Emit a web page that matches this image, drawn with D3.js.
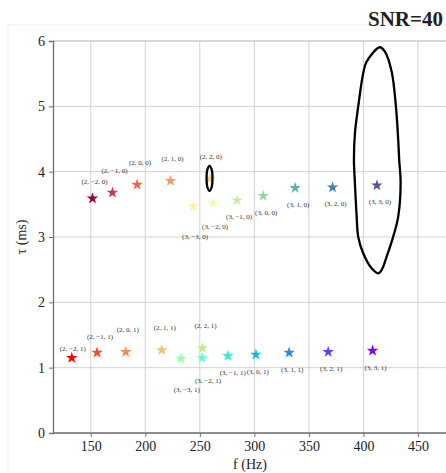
<!DOCTYPE html>
<html><head><meta charset="utf-8">
<script src="https://cdn.jsdelivr.net/npm/d3@7"></script>
<style>body{margin:0;background:#fff}svg{display:block}</style>
</head><body>
<script>
// ---- data ----
const topLabels = ["(2, −2, 0)","(2, −1, 0)","(2, 0, 0)","(2, 1, 0)","(2, 2, 0)","(3, −3, 0)","(3, −2, 0)","(3, −1, 0)","(3, 0, 0)","(3, 1, 0)","(3, 2, 0)","(3, 3, 0)"];
const topF   = [151.6,169.9,192.5,223.1,259.2,243.9,262.2,284.2,308.1,337.4,371.7,412.4];
const topTau = [3.59,3.68,3.80,3.86,3.89,3.47,3.52,3.56,3.63,3.75,3.76,3.79];
const botLabels = ["(2, −2, 1)","(2, −1, 1)","(2, 0, 1)","(2, 1, 1)","(2, 2, 1)","(3, −3, 1)","(3, −2, 1)","(3, −1, 1)","(3, 0, 1)","(3, 1, 1)","(3, 2, 1)","(3, 3, 1)"];
const botF   = [132.6,155.8,182.1,215.1,252.5,232.6,252.1,275.7,301.4,331.9,367.7,408.4];
const botTau = [1.15,1.23,1.24,1.27,1.30,1.14,1.15,1.18,1.20,1.23,1.24,1.26];
// label offsets (px) for readability
const topLabelDx = [2,2,3,2,1,2,2,2,3,3,3,3];
const topLabelDy = [-14,-20,-20,-20,-20,33,26,19,19,19,19,19];
const botLabelDx = [1,3,2,3,3,6,6,5,2,3,3,3];
const botLabelDy = [-7,-14,-20,-20,-20,33,25,19,19,19,19,19];
// contours (f, tau)
const bigContourF   = [415.1,419.7,425.9,429.8,431.9,432.8,434.1,431.9,427.3,421.3,416.7,413.6,407.5,399.8,395.2,393.8,392.2,391.3,392.2,395.2,399.8,402.9];
const bigContourTau = [5.904,5.836,5.530,4.995,4.485,4.179,3.822,3.311,3.005,2.699,2.495,2.444,2.521,2.751,3.005,3.311,3.822,4.179,4.587,4.995,5.506,5.683];
const smallContourF   = [258.9,260.9,261.6,260.9,258.9,256.9,256.2,256.9];
const smallContourTau = [4.090,4.030,3.898,3.765,3.705,3.765,3.898,4.030];
const xTicks = [150,200,250,300,350,400,450];
const yTicks = [0,1,2,3,4,5,6];
const title = "SNR=40";

// ---- chart ----
const W = 446, H = 473;
const svg = d3.select("body").append("svg").attr("width", W).attr("height", H);
const serif = "'Liberation Serif','DejaVu Serif',serif";

svg.append("rect").attr("x",8).attr("y",25).attr("width",460).attr("height",460)
  .attr("fill","none").attr("stroke","#f0f0f0");

const x = d3.scaleLinear().domain([115.4, 475.7]).range([53, 446]);
const y = d3.scaleLinear().domain([0, 6]).range([433, 41]);

const g = svg.append("g");
// grid
g.selectAll(".gx").data(xTicks).join("line")
  .attr("x1", d=>x(d)).attr("x2", d=>x(d)).attr("y1", y(0)).attr("y2", y(6))
  .attr("stroke","#d2d2d2").attr("stroke-width",1);
g.selectAll(".gy").data(yTicks).join("line")
  .attr("x1", x.range()[0]).attr("x2", W).attr("y1", d=>y(d)).attr("y2", d=>y(d))
  .attr("stroke", d=> d===6 ? "#b0b0b0" : "#d2d2d2").attr("stroke-width",1);

// axes
const xAxis = d3.axisBottom(x).tickValues(xTicks).tickFormat(d3.format("d")).tickSize(4).tickPadding(4);
const yAxis = d3.axisLeft(y).tickValues(yTicks).tickFormat(d3.format("d")).tickSize(4).tickPadding(4);
const gx = svg.append("g").attr("transform",`translate(0,${y(0)})`).call(xAxis);
const gy = svg.append("g").attr("transform",`translate(${x.range()[0]},0)`).call(yAxis);
[gx,gy].forEach(a=>{
  a.attr("font-family", serif).attr("font-size", 14);
  a.select(".domain").attr("stroke","#707070").attr("stroke-width",1.3);
  a.selectAll(".tick line").attr("stroke","#707070");
  a.selectAll(".tick text").attr("font-family",serif).attr("font-size",14).attr("fill","#222");
});
gx.select(".domain").attr("d", `M${x.range()[0]},0H${W}`);

svg.append("text").attr("x", 250).attr("y", 469).attr("text-anchor","middle")
  .attr("font-family",serif).attr("font-size",14).attr("fill","#222").text("f (Hz)");
svg.append("text").attr("transform","translate(26,237) rotate(-90)").attr("text-anchor","middle")
  .attr("font-family",serif).attr("font-size",14).attr("fill","#222").text("τ (ms)");
svg.append("text").attr("x", 443).attr("y", 26).attr("text-anchor","end")
  .attr("font-family",serif).attr("font-size",21).attr("font-weight","bold").attr("fill","#222").text(title);

// colours
function rainbow(t){ // matplotlib 'rainbow'
  const r = Math.min(1, Math.abs(2*t-0.5)), gg = Math.sin(Math.PI*t), b = Math.cos(Math.PI*t/2);
  return d3.rgb(r*255, gg*255, b*255).formatHex();
}
const star = d3.symbol().type(d3.symbolStar).size(42);

const topData = topF.map((f,i)=>({f, t: topTau[i], label: topLabels[i], dx: topLabelDx[i], dy: topLabelDy[i], c: d3.interpolateSpectral(i/11)}));
const botData = botF.map((f,i)=>({f, t: botTau[i], label: botLabels[i], dx: botLabelDx[i], dy: botLabelDy[i], c: rainbow(1 - i/11)}));

const clip = svg.append("clipPath").attr("id","clip").append("rect")
  .attr("x",x.range()[0]).attr("y",y(6)).attr("width",W-x.range()[0]).attr("height",y(0)-y(6));
const plot = svg.append("g").attr("clip-path","url(#clip)");

[topData, botData].forEach(data=>{
  plot.selectAll(null).data(data).join("path")
    .attr("d", star).attr("transform", d=>`translate(${x(d.f)},${y(d.t)})`)
    .attr("fill", d=>d.c);
  svg.selectAll(null).data(data).join("text")
    .attr("x", d=>x(d.f)+d.dx).attr("y", d=>y(d.t)+d.dy)
    .attr("text-anchor","middle").attr("font-family",serif).attr("font-size",7)
    .attr("fill","#333").text(d=>d.label);
});

const line = d3.line().x(d=>x(d[0])).y(d=>y(d[1])).curve(d3.curveCatmullRomClosed.alpha(0.5));
plot.append("path").attr("d", line(bigContourF.map((f,i)=>[f, bigContourTau[i]])))
  .attr("fill","none").attr("stroke","#000").attr("stroke-width",2.3);
plot.append("path").attr("d", line(smallContourF.map((f,i)=>[f, smallContourTau[i]])))
  .attr("fill","none").attr("stroke","#000").attr("stroke-width",2.3);
</script>
</body></html>
